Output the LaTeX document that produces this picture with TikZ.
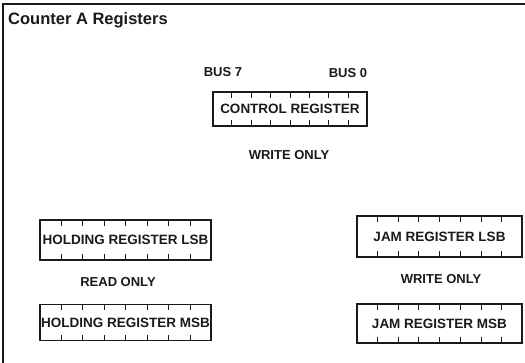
\documentclass[tikz,border=0pt]{standalone}
\usepackage{fontspec}
\setmainfont{Liberation Sans}
\usetikzlibrary{calc}
\definecolor{ink}{HTML}{1A1A1A}

\tikzset{
  regbox/.style={draw=ink,line width=1.1pt,inner sep=0pt,minimum width=#1,
    minimum height=38,font=\fontsize{13.5}{15}\selectfont\bfseries,text=ink},
  tag/.style={inner sep=0pt,font=\fontsize{13}{15}\selectfont\bfseries,text=ink}
}

\begin{document}
\begin{tikzpicture}[x=1pt,y=-1pt]
  \useasboundingbox (0,0) rectangle (525,363);
  % frame and title
  \draw[ink,line width=1.5pt] (3,363)--(3,4)--(525,4);
  \node[anchor=west,inner sep=0pt,text=ink,font=\fontsize{16.5}{18}\selectfont\bfseries] (title) at (8,20) {Counter A Registers};
  % registers
  \node[regbox=154,minimum height=34] (ctrl) at (290,109) {CONTROL REGISTER};
  \node[regbox=171,minimum height=40] (holdl) at (125.5,240) {HOLDING REGISTER LSB};
  \node[regbox=171,minimum height=36] (holdm) at (125.5,322.5) {HOLDING REGISTER MSB};
  \node[regbox=165,minimum height=41] (jaml) at (439.5,236.5) {JAM REGISTER LSB};
  \node[regbox=165,minimum height=39] (jamm) at (439.5,323.5) {JAM REGISTER MSB};
  % bit dividers
  \foreach \r in {ctrl,holdl,holdm,jaml,jamm}{
    \foreach \i in {1,...,7}{
      \draw[ink,line width=0.8pt] ($(\r.north west)!\i/8!(\r.north east)$) -- ++(0,6.5);
      \draw[ink,line width=0.8pt] ($(\r.south west)!\i/8!(\r.south east)$) -- ++(0,-6.5);
    }
  }
  % labels
  \node[tag] (bus7) at (223,72) {BUS 7};
  \node[tag] (bus0) at (348,73) {BUS 0};
  \node[tag] (ctrlwo) at (289,155) {WRITE ONLY};
  \node[tag] (holdro) at (118,282) {READ ONLY};
  \node[tag] (jamwo) at (441,279) {WRITE ONLY};
\end{tikzpicture}
\end{document}
